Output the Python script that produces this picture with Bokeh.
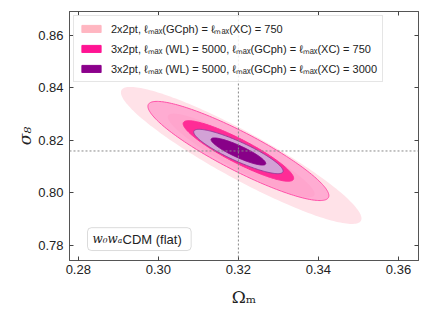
import numpy as np
from bokeh.plotting import figure
from bokeh.models import (Range1d, Span, Label, Legend, LegendItem, LinearAxis, FixedTicker,
                          NumeralTickFormatter, BoxAnnotation)
from bokeh.embed import file_html
from bokeh.resources import INLINE

# ---- data ----
fid_Om = 0.32
fid_s8 = 0.816
probes = ["2x2pt", "3x2pt_750", "3x2pt_3000"]
center_Om = [0.3207, 0.3200, 0.3200]
center_s8 = [0.8143, 0.8160, 0.8158]
sigma_Om = [0.0121, 0.0091, 0.0045]
sigma_s8 = [0.0105, 0.0076, 0.0034]
rho = [-0.92, -0.90, -0.88]
legend_labels = [
    "2x2pt, ℓₘₐₓ(GCph) = ℓₘₐₓ(XC) = 750",
    "3x2pt, ℓₘₐₓ (WL) = 5000, ℓₘₐₓ(GCph) = ℓₘₐₓ(XC) = 750",
    "3x2pt, ℓₘₐₓ (WL) = 5000, ℓₘₐₓ(GCph) = ℓₘₐₓ(XC) = 3000",
]
legend_colors = ["#FFB6C1", "#FF1493", "#8B008B"]
x_ticks = [0.28, 0.30, 0.32, 0.34, 0.36]
y_ticks = [0.78, 0.80, 0.82, 0.84, 0.86]
dchi2 = [6.17, 2.30]  # 2 sigma, 1 sigma

# styles per probe: (2sigma fill, 2sigma alpha, 2sigma line, 1sigma fill, 1sigma alpha, 1sigma line)
styles = [
    ("#FFE2E8", 1.0, None, "#FFC6D3", 1.0, None),
    ("#FF9ACB", 0.75, "#FF50A8", "#FF2C96", 1.0, "#FF2C96"),
    ("#D2A2D6", 1.0, "#9A3A9A", "#880088", 1.0, "#880088"),
]


def ellipse(cx, cy, sx, sy, r, d2, n=200):
    t = np.linspace(0, 2 * np.pi, n)
    cov = np.array([[sx * sx, r * sx * sy], [r * sx * sy, sy * sy]])
    L = np.linalg.cholesky(cov)
    pts = L @ np.vstack([np.cos(t), np.sin(t)]) * np.sqrt(d2)
    return cx + pts[0], cy + pts[1]


p = figure(width=430, height=322, output_backend="svg", toolbar_location=None,
           x_range=Range1d(0.2778, 0.365), y_range=Range1d(0.7743, 0.8691),
           min_border_left=69, min_border_right=12, min_border_top=11, min_border_bottom=62,
           x_axis_label="Ωₘ", y_axis_label="σ₈")
p.background_fill_color = "white"
p.border_fill_color = "white"
p.grid.visible = False
p.outline_line_color = "#555555"
p.outline_line_width = 1

for i in range(len(probes)):
    st = styles[i]
    xs, ys = ellipse(center_Om[i], center_s8[i], sigma_Om[i], sigma_s8[i], rho[i], dchi2[0])
    p.patch(xs, ys, fill_color=st[0], fill_alpha=st[1],
            line_color=st[2] if st[2] else st[0], line_width=1, line_alpha=1.0 if st[2] else 0.0)
    xs, ys = ellipse(center_Om[i], center_s8[i], sigma_Om[i], sigma_s8[i], rho[i], dchi2[1])
    p.patch(xs, ys, fill_color=st[3], fill_alpha=st[4],
            line_color=st[5] if st[5] else st[3], line_width=1, line_alpha=1.0 if st[5] else 0.0)

# legend proxies (not visible in the plot area)
items = []
for lab, col in zip(legend_labels, legend_colors):
    r = p.quad(left=[np.nan], right=[np.nan], top=[np.nan], bottom=[np.nan],
               fill_color=col, line_color=col)
    items.append(LegendItem(label=lab, renderers=[r]))
leg = Legend(items=items, location="top_left")
leg.label_text_font = "Liberation Sans"
leg.label_text_font_size = "11px"
leg.label_text_color = "#222222"
leg.glyph_width = 24
leg.glyph_height = 9
leg.label_height = 13
leg.spacing = 5
leg.padding = 5
leg.margin = 4
leg.label_standoff = 8
leg.border_line_color = "#cccccc"
leg.background_fill_alpha = 0.85
p.add_layout(leg)

p.add_layout(Span(location=fid_Om, dimension="height", line_color="#888888", line_dash="2 2", line_width=1))
p.add_layout(Span(location=fid_s8, dimension="width", line_color="#888888", line_dash="2 2", line_width=1))

# axes
for ax in [p.xaxis[0], p.yaxis[0]]:
    ax.major_tick_in = 4
    ax.major_tick_out = 0
    ax.minor_tick_line_color = None
    ax.axis_line_color = "#555555"
    ax.major_tick_line_color = "#444444"
    ax.major_label_text_font = "Liberation Sans"
    ax.major_label_text_font_size = "13px"
    ax.major_label_text_color = "#222222"
    ax.formatter = NumeralTickFormatter(format="0.00")
    ax.axis_label_text_font = "DejaVu Serif"
    ax.axis_label_text_font_style = "normal"
    ax.axis_label_text_font_size = "17px"
    ax.axis_label_text_color = "#222222"
p.xaxis[0].ticker = FixedTicker(ticks=x_ticks)
p.yaxis[0].ticker = FixedTicker(ticks=y_ticks)
p.xaxis[0].major_label_standoff = 4
p.yaxis[0].major_label_standoff = 6
p.xaxis[0].axis_label_standoff = 10
p.yaxis[0].axis_label_standoff = 0
p.yaxis[0].axis_label_text_font_style = "italic"

top = LinearAxis(ticker=FixedTicker(ticks=x_ticks), major_label_overrides={t: "" for t in x_ticks},
                 major_tick_in=4, major_tick_out=0, minor_tick_line_color=None,
                 axis_line_color="#555555", major_tick_line_color="#444444")
right = LinearAxis(ticker=FixedTicker(ticks=y_ticks), major_label_overrides={t: "" for t in y_ticks},
                   major_tick_in=4, major_tick_out=0, minor_tick_line_color=None,
                   axis_line_color="#555555", major_tick_line_color="#444444")
p.add_layout(top, "above")
p.add_layout(right, "right")
p.min_border_top = 11
p.min_border_right = 12

box = BoxAnnotation(left=0.2823, right=0.3082, bottom=0.7781, top=0.7868,
                    fill_color="white", fill_alpha=1.0, line_color="#888888", line_width=1,
                    border_radius=4, level="annotation")
p.add_layout(box)
p.add_layout(Label(x=0.2823, y=0.78245, x_offset=5, text="w₀wₐ", text_font="DejaVu Serif",
                   text_font_style="italic", text_font_size="12px", text_color="#222222",
                   text_baseline="middle"))
p.add_layout(Label(x=0.2823, y=0.78245, x_offset=35, text="CDM (flat)", text_font="Liberation Sans",
                   text_font_size="13px", text_color="#222222", text_baseline="middle"))

open("out.html", "w").write(file_html(p, INLINE))
